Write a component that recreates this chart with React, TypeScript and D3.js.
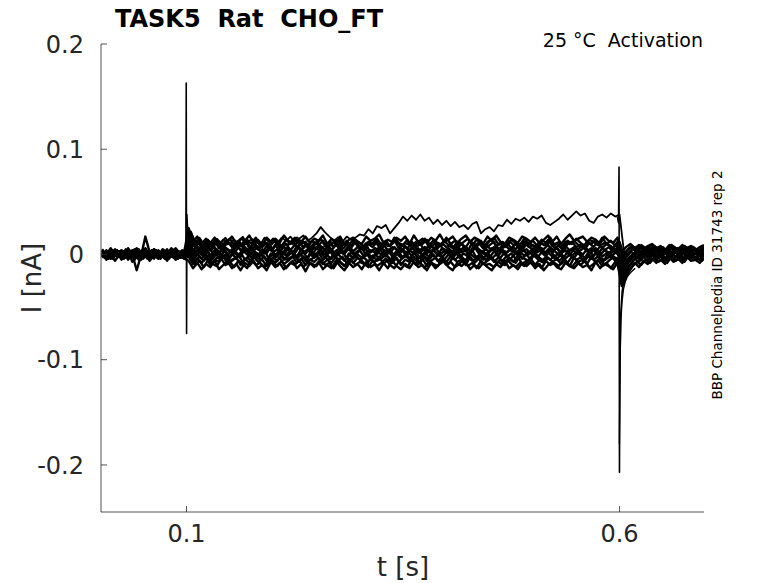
import * as d3 from 'd3';

// current in pA (1e-3 nA), sampled every SAMPLE_STEP s from each sweep's start time
const SAMPLE_STEP = 0.005;

const TRACE_A = [
  2, -5, -1, -6, 0, -4, 3, -7, -2, -5, 1, -6, -1, -4, 2, -6, 0, -5, -2, -4,
  -6, -13, -8, -14, -9, -12, -6, -14, -10, -7, -13, -9, -15, -8, -11, -6, -13, -10, -15, -7,
  -12, -8, -14, -10, -6, -13, -9, -16, -8, -12, -7, -14, -10, -13, -6, -11, -15, -8, -12, -9,
  -14, -7, -12, -9, -15, -8, -13, -6, -11, -14, -9, -13, -7, -12, -10, -15, -8, -13, -9, -6,
  -12, -15, -8, -11, -7, -14, -10, -13, -8, -12, -15, -9, -12, -6, -13, -10, -14, -8, -11, -7,
  -13, -9, -15, -10, -7, -12, -14, -8, -11, -13, -8, -12, -10, -15, -7, -13, -9, -11, -14, -8,
  -30, -20, -14, -8, -12, -6, -9, -4, -8, -5, -9, -3, -7, -4, -8, -2, -6, -5, -8, -3,
];
const TRACE_J = [
  -1, 3, -4, 2, -2, 5, -3, 1, -5, 2, 0, -3, 4, -2, 1, -4, 3, -1, -3, 2,
  -3, -10, -6, -12, -5, -9, -11, -4, -10, -7, -12, -6, -9, -13, -5, -10, -8, -12, -4, -9,
  -11, -6, -13, -8, -10, -5, -12, -7, -9, -11, -5, -10, -8, -13, -6, -9, -12, -5, -10, -7,
  -9, -12, -6, -11, -8, -4, -10, -13, -7, -9, -12, -5, -10, -8, -13, -6, -9, -11, -5, -10,
  -7, -12, -9, -5, -11, -8, -13, -6, -10, -9, -12, -7, -10, -5, -9, -12, -8, -11, -6, -10,
  -9, -13, -6, -10, -8, -11, -5, -9, -12, -7, -10, -6, -12, -9, -5, -11, -8, -13, -7, -10,
  -27, -17, -11, -7, -10, -5, -8, -3, -7, -4, -8, -2, -6, -3, -7, -1, -5, -4, -6, -2,
];
const TRACE_B = [
  4, -2, 5, -1, 3, -3, 6, 0, 2, -3, 4, -1, 5, -2, 3, 0, 6, -2, 2, -1,
  -2, -9, -4, -8, -3, -10, -5, -7, -2, -9, -6, -3, -10, -4, -8, -2, -7, -5, -11, -4,
  -8, -3, -9, -6, -2, -8, -4, -10, -5, -7, -3, -9, -5, -8, -2, -7, -11, -4, -8, -3,
  -6, -10, -4, -7, -2, -9, -5, -8, -3, -10, -5, -7, -2, -9, -4, -11, -6, -3, -8, -5,
  -9, -3, -7, -5, -10, -2, -8, -4, -9, -6, -3, -8, -5, -10, -4, -7, -2, -9, -6, -4,
  -10, -5, -8, -3, -7, -4, -9, -6, -11, -3, -7, -5, -9, -2, -8, -4, -10, -6, -3, -8,
  -24, -15, -10, -4, -7, -2, -6, 0, -5, -2, -6, 1, -4, -1, -5, 0, -3, -2, -5, 0,
];
const TRACE_K = [
  2, -3, 4, 0, -4, 3, -1, 5, -2, 1, -3, 4, -1, 2, -4, 3, 0, -2, 4, -3,
  0, -7, -2, -6, -1, -8, -3, -5, 0, -6, -4, -1, -7, -3, -6, 0, -5, -2, -8, -3,
  -6, -1, -5, -3, 0, -7, -2, -6, -4, -1, -7, -3, -5, 0, -6, -2, -8, -4, -1, -5,
  -3, -7, -1, -6, -4, 0, -5, -2, -7, -3, -1, -6, -4, -8, -2, -5, 0, -6, -3, -7,
  -2, -5, -1, -7, -3, -6, -4, 0, -5, -2, -7, -3, -6, -1, -5, -8, -2, -4, -6, 0,
  -4, -7, -2, -5, -1, -6, -3, -8, -2, -5, -3, -6, 0, -5, -2, -7, -4, -1, -6, -3,
  -20, -12, -7, -2, -5, 0, -4, 1, -3, -1, -5, 2, -2, 0, -4, 1, -2, -3, 0, -1,
];
const TRACE_C = [
  -3, 2, -4, 1, -2, 3, -5, 0, -15, -1, 3, -4, 2, -3, 1, -5, 2, -2, 3, -4,
  4, -5, 1, -4, 0, -6, 2, -3, -1, -6, 1, -4, 2, -5, -1, 3, -4, 0, -6, 1,
  -3, 2, -5, -1, 3, -4, 0, -6, 1, -3, 2, -5, -1, -4, 3, -2, -6, 1, -4, 0,
  -3, 2, -5, 0, -4, 3, -2, -6, 1, -3, -1, -5, 2, -4, 0, -6, 1, -3, 2, -5,
  0, -4, 3, -2, -6, 1, -3, -1, -5, 2, -4, 0, -3, 2, -6, -1, 3, -4, 0, -5,
  1, -3, -6, 2, -2, -5, 1, -4, 0, -3, 2, -6, -1, -4, 1, -3, -5, 2, -2, -4,
  -18, -11, -5, -1, -4, 1, -3, 2, -2, 0, -4, 2, -1, -3, 1, -2, 0, -4, 1, -1,
];
const TRACE_L = [
  -4, 2, -1, 4, -3, 0, 3, -2, 5, -4, 1, -1, 4, -3, 2, -1, 3, -4, 1, 2,
  5, -3, 2, -2, 3, -4, 1, -1, 4, -3, 2, -2, 4, 0, -3, 2, -1, 4, -4, 1,
  -2, 3, -1, 4, -3, 0, 2, -4, 3, -1, 1, -3, 4, -2, 0, 3, -4, 2, -1, 4,
  -2, 1, -4, 3, 0, -2, 4, -1, 2, -3, 3, -1, 2, -4, 1, -2, 4, 0, -3, 2,
  -1, 3, -3, 1, -2, 4, -4, 2, 0, -3, 3, -1, 4, -2, 1, -4, 2, -1, 3, 0,
  -3, 2, -1, 4, -2, 1, -4, 3, -1, 2, 0, -3, 3, -1, 4, -2, 1, -3, 2, -1,
  -15, -8, -3, 1, -2, 3, -1, 2, -3, 1, 0, -2, 3, -1, 2, -3, 1, 0, -2, 2,
];
const TRACE_D = [
  -2, 4, -1, 5, 0, 3, -3, 4, 1, -2, 17, 2, -3, 4, -1, 5, -2, 3, 0, 4,
  8, -1, 5, 0, 6, -2, 4, 1, 6, -1, 5, 2, -2, 6, 0, 4, -1, 5, 1, 7,
  -1, 4, 0, 6, 2, -2, 5, 1, 6, -1, 3, 7, 0, 4, -2, 5, 1, 6, 0, 3,
  6, -1, 4, 2, 7, 0, 5, -2, 3, 6, 0, 4, 1, 6, -1, 5, 2, 7, 0, 3,
  5, -1, 6, 2, 4, 0, 7, 1, 3, -1, 6, 2, 5, 0, 4, 7, -1, 3, 5, 1,
  4, 6, 0, 5, 2, 7, 1, 4, -1, 6, 3, 0, 5, 2, 6, -1, 4, 1, 5, 2,
  -13, -7, -2, 2, -1, 4, 0, 3, -2, 4, 1, -1, 3, 0, 4, -2, 2, 1, -1, 3,
];
const TRACE_M = [
  1, -4, 2, 0, 4, -2, 1, -3, 3, 0, -2, 4, -1, 2, -3, 1, 4, -2, 0, 3,
  9, 1, 6, 0, 7, 2, 5, -1, 6, 3, 1, 7, 2, 5, 0, 6, 4, 1, 7, 2,
  5, 0, 6, 3, 1, 7, 2, 5, -1, 6, 3, 0, 7, 2, 5, 1, 6, 3, 0, 5,
  7, 2, 4, 0, 6, 3, 1, 7, 2, 5, 0, 6, 3, 1, 7, 2, 5, -1, 6, 4,
  1, 5, 2, 7, 0, 4, 6, 1, 5, 3, 7, 0, 4, 2, 6, 1, 5, 3, 0, 6,
  2, 5, 1, 7, 3, 0, 6, 2, 5, 1, 4, 7, 2, 5, 0, 6, 3, 1, 5, 2,
  -11, -4, 0, 3, 1, 5, 0, 4, 2, -1, 3, 1, 5, 0, 2, 4, -1, 3, 1, 2,
];
const TRACE_E = [
  3, -3, 5, -1, 2, -4, 4, 0, 6, -2, 3, -3, 5, 1, -2, 4, -1, 5, -3, 2,
  11, 3, 8, 2, 9, 4, 7, 1, 8, 5, 2, 9, 4, 7, 3, 10, 5, 2, 8, 4,
  9, 3, 7, 5, 1, 8, 4, 10, 3, 6, 8, 2, 7, 4, 9, 5, 1, 8, 3, 7,
  5, 9, 2, 6, 4, 10, 3, 7, 5, 2, 8, 4, 9, 3, 6, 1, 8, 5, 10, 3,
  6, 2, 8, 4, 7, 3, 9, 5, 2, 8, 4, 7, 3, 9, 5, 2, 8, 4, 10, 6,
  2, 7, 5, 9, 3, 6, 1, 8, 4, 7, 5, 9, 3, 6, 2, 8, 4, 7, 3, 6,
  -9, -3, 3, 0, 4, 2, 6, 1, 4, 0, 5, 2, 3, 6, 1, 4, 2, 5, 0, 3,
];
const TRACE_F = [
  -4, 1, -3, 3, -5, 2, -1, 4, -3, 1, -4, 2, 0, -3, 3, -2, 1, -4, 2, -1,
  15, 7, 12, 5, 10, 6, 12, 4, 9, 11, 5, 10, 7, 13, 4, 9, 6, 11, 8, 5,
  12, 7, 10, 4, 9, 13, 6, 10, 5, 12, 8, 4, 11, 7, 13, 5, 9, 6, 12, 8,
  4, 10, 7, 12, 5, 11, 8, 14, 6, 9, 5, 12, 7, 10, 4, 9, 13, 6, 11, 7,
  10, 5, 12, 8, 4, 11, 7, 13, 6, 9, 12, 5, 8, 11, 6, 10, 4, 12, 7, 9,
  5, 11, 8, 13, 6, 9, 4, 10, 12, 7, 9, 5, 11, 7, 12, 6, 10, 8, 4, 11,
  -6, 1, 6, 3, 7, 2, 5, 8, 3, 6, 1, 7, 4, 2, 6, 3, 7, 4, 1, 5,
];
const TRACE_N = [
  -2, 2, -4, 1, 3, -3, 0, 4, -1, -3, 2, 0, -4, 3, -2, 1, 4, -1, -3, 0,
  17, 8, 13, 6, 11, 8, 13, 6, 10, 12, 7, 11, 8, 14, 6, 10, 12, 7, 11, 9,
  13, 6, 11, 9, 14, 7, 10, 12, 6, 11, 9, 13, 7, 10, 12, 6, 11, 9, 14, 8,
  6, 11, 9, 13, 7, 12, 8, 10, 14, 7, 11, 9, 6, 12, 10, 14, 7, 11, 8, 13,
  9, 6, 12, 10, 7, 13, 9, 11, 6, 12, 14, 8, 10, 7, 13, 9, 11, 6, 12, 10,
  7, 12, 9, 14, 8, 11, 6, 12, 10, 13, 9, 7, 12, 10, 14, 8, 11, 9, 6, 12,
  -3, 3, 7, 4, 8, 3, 6, 9, 4, 7, 2, 8, 5, 3, 7, 4, 8, 5, 2, 6,
];
const TRACE_G = [
  1, -4, 3, -2, 4, -3, 2, -5, 1, 3, -2, 4, -1, -4, 2, 0, -3, 3, -1, 1,
  21, 10, 15, 8, 13, 9, 14, 7, 12, 15, 9, 13, 8, 14, 10, 16, 8, 12, 9, 15,
  11, 8, 14, 10, 16, 9, 12, 7, 13, 10, 15, 8, 12, 11, 16, 9, 13, 8, 14, 11,
  7, 12, 10, 15, 9, 13, 8, 16, 11, 9, 14, 8, 12, 10, 15, 7, 13, 11, 9, 16,
  10, 13, 8, 12, 15, 9, 14, 11, 8, 13, 16, 10, 12, 8, 14, 11, 9, 15, 10, 13,
  8, 14, 11, 16, 9, 12, 7, 13, 10, 15, 11, 8, 14, 12, 9, 16, 10, 13, 8, 12,
  -2, 5, 8, 4, 9, 6, 3, 8, 5, 7, 3, 9, 6, 4, 8, 5, 7, 3, 6, 8,
];
const TRACE_H = [
  5, 0, 6, -1, 3, -2, 5, 1, 4, -3, 6, 0, 3, -1, 5, 2, -1, 6, 1, 3,
  25, 12, 17, 10, 15, 11, 16, 9, 14, 12, 17, 10, 15, 13, 18, 11, 14, 9, 16, 12,
  15, 11, 18, 13, 10, 16, 12, 17, 11, 15, 13, 18, 10, 15, 12, 17, 9, 14, 16, 12,
  10, 17, 13, 15, 19, 11, 14, 12, 16, 13, 17, 10, 18, 12, 15, 11, 16, 13, 19, 12,
  14, 17, 11, 15, 18, 12, 16, 14, 10, 17, 13, 18, 12, 10, 16, 14, 11, 17, 15, 12,
  16, 11, 14, 18, 12, 17, 10, 15, 19, 13, 15, 17, 12, 16, 14, 10, 17, 13, 11, 16,
  2, 7, 10, 6, 9, 5, 8, 10, 6, 8, 4, 9, 7, 5, 9, 6, 8, 4, 7, 9,
];
const TRACE_I = [
  -3, 3, -2, 4, -4, 1, 3, -3, 2, 5, -2, 1, 4, -1, -4, 2, 5, -2, 0, 4,
  22, 12, 16, 10, 14, 9, 15, 11, 16, 10, 14, 11, 17, 10, 15, 13, 9, 16, 12, 14,
  11, 16, 13, 17, 12, 15, 18, 13, 16, 20, 26, 21, 17, 13, 16, 12, 17, 14, 16, 19,
  18, 24, 20, 27, 25, 28, 20, 25, 30, 36, 32, 37, 33, 38, 32, 35, 29, 33, 28, 32,
  27, 31, 26, 28, 24, 29, 31, 20, 24, 26, 22, 28, 27, 33, 29, 34, 32, 35, 31, 36,
  34, 37, 30, 28, 31, 34, 38, 33, 37, 41, 37, 39, 32, 30, 36, 38, 35, 39, 36, 38,
  3, -1, 5, 2, -2, 4, 1, 6, -1, 3, 0, 5, 2, -2, 4, 1, 6, -1, 2, 4,
];
// sweeps ordered by step level; the last one is the large outward sweep
const TRACES = [
  TRACE_A, TRACE_J, TRACE_B, TRACE_K, TRACE_C, TRACE_L, TRACE_D,
  TRACE_M, TRACE_E, TRACE_F, TRACE_N, TRACE_G, TRACE_H, TRACE_I,
];
const SWEEP_START = [
  0.0025, 0.005, 0.0025, 0.005, 0.0025, 0.005, 0.0025,
  0.005, 0.0025, 0.005, 0.0025, 0.005, 0.0025, 0.005,
];

// capacitive transients at step onset / offset (t in s, I in pA)
const ON_SPIKE_T = [0.0975, 0.0993, 0.0997, 0.1001, 0.1005, 0.101, 0.1018, 0.1025, 0.104];
const ON_SPIKE_I = [0, 2, 163, -75, 38, 28, 22, 18, 14];
const OFF_SPIKE_T = [0.5975, 0.5988, 0.5994, 0.5999, 0.6004, 0.6012, 0.603, 0.605, 0.607, 0.61, 0.614];
const OFF_SPIKE_I = [36, 30, 83, -207, -110, -60, -35, -25, -20, -15, -12];
const OFF_TAIL_T = [0.5998, 0.6003, 0.6008, 0.6016, 0.6028, 0.6045, 0.6065, 0.609, 0.613, 0.618];
const OFF_TAIL_I = [-180, -130, -92, -62, -45, -33, -26, -21, -17, -13];

const Y_TICKS = [0.2, 0.1, 0, -0.1, -0.2];
const Y_TICK_LABELS = ['0.2', '0.1', '0', '-0.1', '-0.2'];
const X_TICKS = [0.1, 0.6];
const X_TICK_LABELS = ['0.1', '0.6'];

const W = 778;
const H = 583;
const FONT = 'DejaVu Sans, sans-serif';
const AX = '#262626';

export default function App() {
  const x = d3.scaleLinear().domain([0.0013, 0.6975]).range([101, 704]);
  const y = d3.scaleLinear().domain([-0.2447, 0.2]).range([512, 44]);

  const line = d3
    .line<[number, number]>()
    .x((d) => x(d[0]))
    .y((d) => y(d[1] / 1000));

  const tracePaths = TRACES.map((tr, k) =>
    line(tr.map((v, i) => [SWEEP_START[k] + i * SAMPLE_STEP, v] as [number, number]))
  );
  const onPath = line(ON_SPIKE_T.map((t, i) => [t, ON_SPIKE_I[i]] as [number, number]));
  const offPath = line(OFF_SPIKE_T.map((t, i) => [t, OFF_SPIKE_I[i]] as [number, number]));
  const tailPath = line(OFF_TAIL_T.map((t, i) => [t, OFF_TAIL_I[i]] as [number, number]));

  return (
    <div style={{ position: 'absolute', left: 0, top: 0 }}>
      <svg width={W} height={H} style={{ display: 'block', background: '#fff' }} fontFamily={FONT}>
        <defs>
          <clipPath id="plot">
            <rect x={101} y={44} width={603} height={468} />
          </clipPath>
        </defs>
        <g fill="none" stroke="#000" strokeLinejoin="round" clipPath="url(#plot)">
          {tracePaths.map((p, i) => (
            <path key={i} d={p ?? ''} strokeWidth={i === TRACES.length - 1 ? 1.8 : 2.4} />
          ))}
          <path d={onPath ?? ''} strokeWidth={1.6} />
          <path d={offPath ?? ''} strokeWidth={1.6} />
          <path d={tailPath ?? ''} strokeWidth={1.4} />
        </g>

        {/* axes */}
        <g stroke={AX} strokeWidth={0.8} fill="none">
          <line x1={101} x2={101} y1={44} y2={512} />
          <line x1={101} x2={704} y1={512} y2={512} />
          {Y_TICKS.map((v) => (
            <line key={v} x1={101} x2={107} y1={y(v)} y2={y(v)} />
          ))}
          {X_TICKS.map((v) => (
            <line key={v} x1={x(v)} x2={x(v)} y1={512} y2={506} />
          ))}
        </g>
        <g fill={AX} fontSize={24}>
          {Y_TICKS.map((v, i) => (
            <text key={v} x={84} y={y(v)} dy="0.36em" textAnchor="end">
              {Y_TICK_LABELS[i]}
            </text>
          ))}
          {X_TICKS.map((v, i) => (
            <text key={v} x={x(v)} y={542} textAnchor="middle">
              {X_TICK_LABELS[i]}
            </text>
          ))}
        </g>
        <text x={403} y={576} fontSize={26} fill={AX} textAnchor="middle">
          t [s]
        </text>
        <text
          transform="translate(41,278) rotate(-90)"
          fontSize={26}
          fill={AX}
          textAnchor="middle"
        >
          I [nA]
        </text>

        <text x={115} y={27} fontSize={24} fontWeight="bold" fill="#000" style={{ whiteSpace: 'pre' }}>
          {'TASK5  Rat  CHO_FT'}
        </text>
        <text x={703} y={47} fontSize={19} fill="#000" textAnchor="end" style={{ whiteSpace: 'pre' }}>
          {'25 °C  Activation'}
        </text>
        <text
          transform="translate(722,285) rotate(-90)"
          fontSize={13.5}
          fill="#000"
          textAnchor="middle"
        >
          BBP Channelpedia ID 31743 rep 2
        </text>
      </svg>
    </div>
  );
}
